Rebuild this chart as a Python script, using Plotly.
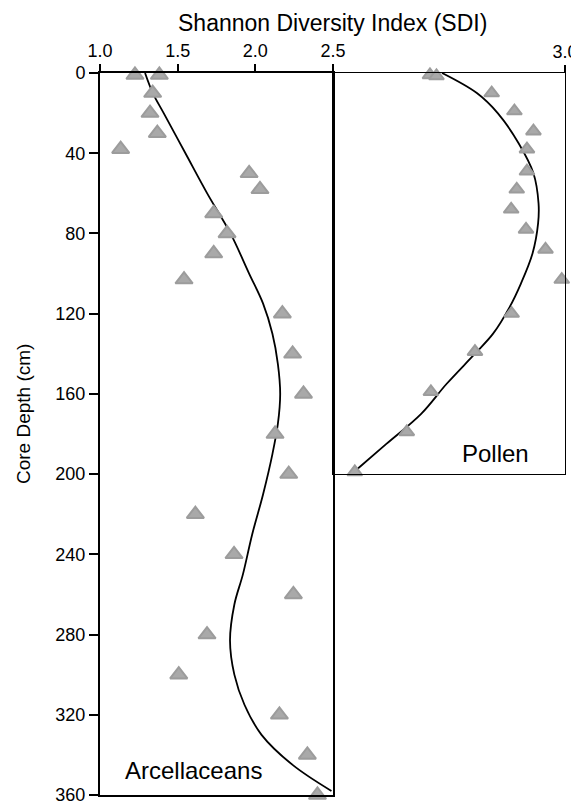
import plotly.graph_objects as go

# ---- Data ----
arc_depth = [1, 1, 10, 20, 30, 38, 50, 58, 70, 80, 90, 103, 120, 140, 160, 180, 200,
             220, 240, 260, 280, 300, 320, 340, 360]
arc_sdi = [1.225, 1.382, 1.339, 1.322, 1.369, 1.133, 1.96, 2.03, 1.732, 1.818, 1.732,
           1.541, 2.174, 2.24, 2.31, 2.127, 2.215, 1.614, 1.863, 2.245, 1.689, 1.507,
           2.155, 2.335, 2.40]

arc_fit_depth = [0, 10, 20, 40, 60, 80, 100, 115, 130, 145, 160, 175, 190, 210, 230,
                 250, 265, 283, 300, 315, 330, 345, 358]
arc_fit_sdi = [1.29, 1.34, 1.41, 1.55, 1.69, 1.84, 1.96, 2.05, 2.11, 2.145, 2.16, 2.145,
               2.11, 2.05, 1.98, 1.92, 1.865, 1.837, 1.865, 1.93, 2.04, 2.24, 2.49]

pol_depth = [1, 1.5, 10, 19, 29, 38, 49, 58, 68, 78, 88, 103, 120, 139, 159, 179, 199]
pol_sdi = [2.709, 2.723, 2.842, 2.891, 2.932, 2.918, 2.918, 2.896, 2.884, 2.916, 2.958,
           2.993, 2.885, 2.806, 2.711, 2.659, 2.547]

pol_fit_depth = [0, 10, 20, 35, 50, 65, 75, 90, 105, 117, 130, 140, 155, 170, 185, 198]
pol_fit_sdi = [2.735, 2.81, 2.855, 2.90, 2.932, 2.943, 2.942, 2.93, 2.905, 2.88, 2.845,
               2.806, 2.745, 2.69, 2.615, 2.55]

arc_ticks = [1.0, 1.5, 2.0, 2.5]
pol_ticks = [3.0]
depth_ticks = [0, 40, 80, 120, 160, 200, 240, 280, 320, 360]

FONT = "Liberation Sans, Arial, Helvetica, sans-serif"
MARK_FILL = "#a9a9a9"
MARK_LINE = "#9c9c9c"

fig = go.Figure()

fig.add_trace(go.Scatter(
    x=arc_fit_sdi, y=arc_fit_depth, mode="lines", line=dict(color="black", width=1.8, shape="spline"),
    xaxis="x", yaxis="y", hoverinfo="skip", showlegend=False))
fig.add_trace(go.Scatter(
    x=arc_sdi, y=arc_depth, mode="markers", cliponaxis=False,
    marker=dict(symbol="triangle-up", size=15, color=MARK_FILL, line=dict(color=MARK_LINE, width=2)),
    xaxis="x", yaxis="y", showlegend=False))

fig.add_trace(go.Scatter(
    x=pol_fit_sdi, y=pol_fit_depth, mode="lines", line=dict(color="black", width=1.8, shape="spline"),
    xaxis="x2", yaxis="y2", hoverinfo="skip", showlegend=False))
fig.add_trace(go.Scatter(
    x=pol_sdi, y=pol_depth, mode="markers", cliponaxis=False,
    marker=dict(symbol="triangle-up", size=13, color=MARK_FILL, line=dict(color=MARK_LINE, width=2)),
    xaxis="x2", yaxis="y2", showlegend=False))

split = 233 / 465

# page body has an 8px margin, so the figure is sized/offset to compensate
fig.update_layout(
    width=571, height=797,
    margin=dict(l=92, r=14, t=65, b=10),
    paper_bgcolor="white", plot_bgcolor="white",
    font=dict(family=FONT, size=17, color="black"),
    xaxis=dict(domain=[0, split], range=[1.0, 2.5], side="top", anchor="y", automargin=False,
               tickvals=arc_ticks, ticktext=[f"{v:.1f}" for v in arc_ticks],
               ticks="outside", ticklen=7, tickwidth=1.5, tickcolor="black",
               ticklabeloverflow="allow",
               showline=True, linewidth=2, linecolor="black", mirror=True,
               showgrid=False, zeroline=False, tickfont=dict(size=18)),
    yaxis=dict(domain=[0, 1], range=[360, 0], anchor="x", automargin=False,
               tickvals=depth_ticks, ticks="outside", ticklen=9, tickwidth=1.5, tickcolor="black",
               ticklabeloverflow="allow",
               showline=True, linewidth=2, linecolor="black", mirror=True,
               showgrid=False, zeroline=False, tickfont=dict(size=18)),
    xaxis2=dict(domain=[split, 1], range=[2.5, 3.0], side="top", anchor="y2", automargin=False,
                tickvals=pol_ticks, ticktext=[f"{v:.1f}" for v in pol_ticks],
                ticks="outside", ticklen=7, tickwidth=1.5, tickcolor="black",
                ticklabeloverflow="allow",
                showline=True, linewidth=1.3, linecolor="black", mirror=True,
                showgrid=False, zeroline=False, tickfont=dict(size=18)),
    yaxis2=dict(domain=[1 - 401 / 722, 1], range=[200, 0], anchor="x2", automargin=False,
                showticklabels=False, ticks="",
                showline=True, linewidth=1.3, linecolor="black", mirror=True,
                showgrid=False, zeroline=False),
    annotations=[
        dict(text="Shannon Diversity Index (SDI)", xref="paper", yref="paper", x=0.5, y=1,
             xanchor="center", yanchor="middle", yshift=50, showarrow=False,
             font=dict(size=23, family=FONT)),
        dict(text="Core Depth (cm)", xref="paper", yref="paper", x=0, y=0.5,
             xanchor="center", yanchor="middle", xshift=-77, yshift=20, textangle=-90,
             showarrow=False, font=dict(size=19, family=FONT)),
        dict(text="Arcellaceans", xref="x", yref="y", x=1.605, y=348,
             xanchor="center", yanchor="middle", showarrow=False, font=dict(size=24, family=FONT)),
        dict(text="Pollen", xref="x2", yref="y2", x=2.851, y=190,
             xanchor="center", yanchor="middle", showarrow=False, font=dict(size=24, family=FONT)),
    ],
)

fig.write_html("out.html")
